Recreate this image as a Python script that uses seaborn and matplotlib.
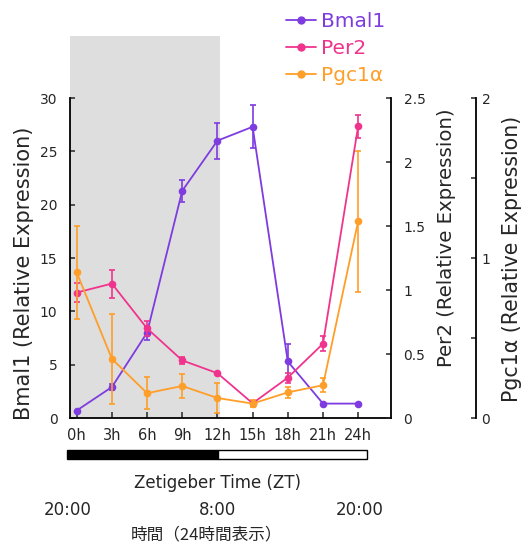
import matplotlib
matplotlib.use("Agg")
import matplotlib.pyplot as plt
import matplotlib.transforms as mtransforms
from matplotlib.patches import Rectangle
from matplotlib.lines import Line2D
import numpy as np
import pandas as pd
import seaborn as sns

# ---- data ----
hours = [0, 3, 6, 9, 12, 15, 18, 21, 24]
hour_labels = ["0h", "3h", "6h", "9h", "12h", "15h", "18h", "21h", "24h"]
bmal1 = [0.7, 2.9, 8.0, 21.3, 26.0, 27.3, 5.3, 1.35, 1.35]
bmal1_err = [0.0, 0.3, 0.65, 1.05, 1.7, 2.0, 1.6, 0.0, 0.0]
per2 = [0.98, 1.05, 0.70, 0.45, 0.35, 0.115, 0.315, 0.58, 2.28]
per2_err = [0.075, 0.11, 0.06, 0.03, 0.0, 0.02, 0.04, 0.06, 0.09]
pgc1a = [0.91, 0.37, 0.155, 0.20, 0.125, 0.09, 0.16, 0.205, 1.23]
pgc1a_err = [0.29, 0.28, 0.10, 0.075, 0.095, 0.02, 0.035, 0.045, 0.44]
clock_labels = ["20:00", "8:00", "20:00"]

C_BMAL = "#7E3BE0"
C_PER = "#F0348D"
C_PGC = "#FF9E28"

sns.set_style("white")
plt.rcParams['font.family'] = ['DejaVu Sans', 'Noto Sans CJK JP']

W, H = 531, 544
fig = plt.figure(figsize=(W / 100, H / 100), dpi=100)

def fx(px):
    return px / W

def fy(py):
    return 1 - py / H

ax = fig.add_axes([fx(70), fy(418), fx(391) - fx(70), fy(98) - fy(418)])
ax2 = ax.twinx()
ax3 = ax.twinx()

xlim = (-0.57, 26.8)
for a in (ax, ax2, ax3):
    a.set_xlim(*xlim)
    a.patch.set_visible(False)
    for s in a.spines.values():
        s.set_visible(False)

# shaded dark period (extends above the axes)
ax.add_patch(Rectangle((xlim[0], 0), 12.2 - xlim[0], 35.85, facecolor="#DEDEDE",
                       edgecolor="none", clip_on=False, zorder=0))

df = pd.DataFrame({"h": hours, "bmal1": bmal1, "per2": per2, "pgc1a": pgc1a})

lw = 1.3
ms = 5.5
ekw = dict(fmt="none", elinewidth=1.2, capsize=2.5, capthick=1.2)

sns.lineplot(data=df, x="h", y="bmal1", ax=ax, color=C_BMAL, marker="o",
             markersize=ms, markeredgewidth=0, linewidth=lw, zorder=3)
ax.errorbar(hours, bmal1, yerr=bmal1_err, ecolor=C_BMAL, zorder=3, **ekw)

sns.lineplot(data=df, x="h", y="per2", ax=ax2, color=C_PER, marker="o",
             markersize=ms, markeredgewidth=0, linewidth=lw, zorder=3)
ax2.errorbar(hours, per2, yerr=per2_err, ecolor=C_PER, zorder=3, **ekw)

sns.lineplot(data=df, x="h", y="pgc1a", ax=ax3, color=C_PGC, marker="o",
             markersize=ms, markeredgewidth=0, linewidth=lw, zorder=3)
ax3.errorbar(hours, pgc1a, yerr=pgc1a_err, ecolor=C_PGC, zorder=3, **ekw)

ax.set_ylim(0, 30)
ax2.set_ylim(0, 2.5)
ax3.set_ylim(0, 2)

for a in (ax, ax2, ax3):
    a.set_xlabel("")
    a.set_ylabel("")

# spines
ax.spines["left"].set_visible(True)
ax.spines["bottom"].set_visible(True)
ax2.spines["right"].set_visible(True)
ax3.spines["right"].set_visible(True)
ax3.spines["right"].set_position(("axes", (476 - 70) / 321))
for s in (ax.spines["left"], ax.spines["bottom"], ax2.spines["right"], ax3.spines["right"]):
    s.set_color("black")
    s.set_linewidth(1.3)

# ticks
ax.set_xticks(hours)
ax.set_xticklabels(hour_labels)
ax.set_yticks(np.arange(0, 31, 5))
ax.set_yticklabels([str(v) for v in range(0, 31, 5)])
ax2.set_yticks([0, 0.5, 1, 1.5, 2, 2.5])
ax2.set_yticklabels(["0", "0.5", "1", "1.5", "2", "2.5"])
ax3.set_yticks([0, 0.5, 1, 1.5, 2])
ax3.set_yticklabels(["0", "", "1", "", "2"])

ax.tick_params(axis="x", direction="in", length=4, width=1.1, pad=7, labelsize=10.5,
               bottom=True, top=False)
ax.tick_params(axis="y", direction="in", length=3.5, width=1.1, pad=9, labelsize=10,
               left=True, right=False)
ax2.tick_params(axis="y", direction="in", length=3.5, width=1.1, pad=9, labelsize=10,
                right=True, left=False, labelright=True, labelleft=False)
ax3.tick_params(axis="y", direction="in", length=3.5, width=1.1, pad=4, labelsize=10,
                right=True, left=False, labelright=True, labelleft=False)
ax2.tick_params(axis="x", bottom=False, labelbottom=False)
ax3.tick_params(axis="x", bottom=False, labelbottom=False)

# axis labels
fig.text(fx(24), fy(273), "Bmal1 (Relative Expression)", rotation=90,
         ha="center", va="center", fontsize=15)
fig.text(fx(447), fy(238), "Per2 (Relative Expression)", rotation=90,
         ha="center", va="center", fontsize=14.2)
fig.text(fx(512), fy(259), "Pgc1α (Relative Expression)", rotation=90,
         ha="center", va="center", fontsize=14.8)

# light/dark bar
trans = mtransforms.blended_transform_factory(ax.transData, fig.transFigure)
bar_y0 = fy(458.5)
bar_h = fy(449.5) - fy(458.5)
fig.add_artist(Rectangle((-0.8, bar_y0), 12.02 + 0.8, bar_h, transform=trans,
                         facecolor="black", edgecolor="black", linewidth=1.0))
fig.add_artist(Rectangle((12.02, bar_y0), 24.75 - 12.02, bar_h, transform=trans,
                         facecolor="white", edgecolor="black", linewidth=1.0))

fig.text(fx(217), fy(483), "Zetigeber Time (ZT)", ha="center", va="center", fontsize=12)
fig.text(fx(68), fy(510), clock_labels[0], ha="center", va="center", fontsize=12)
fig.text(fx(218), fy(510), clock_labels[1], ha="center", va="center", fontsize=12)
fig.text(fx(360), fy(510), clock_labels[2], ha="center", va="center", fontsize=12)
fig.text(fx(207), fy(535), "時間（24時間表示）", ha="center", va="center", fontsize=12,
         family=["Noto Sans CJK JP", "DejaVu Sans"])

# legend
handles = [Line2D([], [], color=c, marker="o", markersize=5, linewidth=1.3)
           for c in (C_BMAL, C_PER, C_PGC)]
leg = fig.legend(handles, ["Bmal1", "Per2", "Pgc1α"], loc="upper left",
                 bbox_to_anchor=(fx(286), fy(12)), frameon=False, fontsize=14.5,
                 handlelength=1.5, handletextpad=0.25, labelspacing=0.4,
                 borderaxespad=0, borderpad=0)
for t, c in zip(leg.get_texts(), (C_BMAL, C_PER, C_PGC)):
    t.set_color(c)

fig.savefig("out.png", dpi=100)
